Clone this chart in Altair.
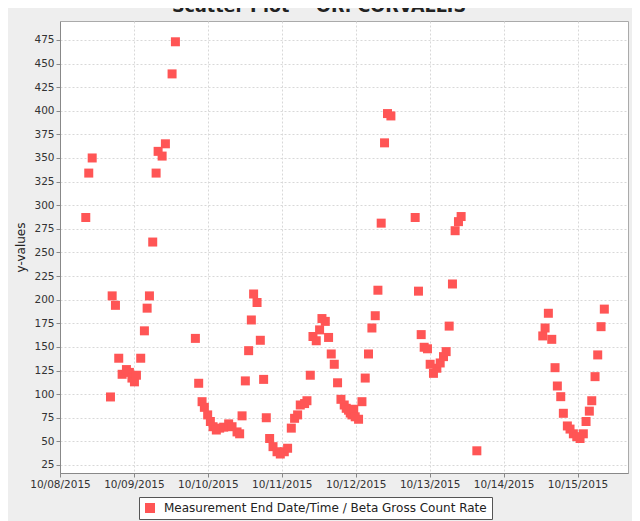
import altair as alt
import pandas as pd

TITLE = "Scatter Plot -- OR: CORVALLIS"
SERIES = "Measurement End Date/Time / Beta Gross Count Rate"

times = [
    "2015-10-08T08:22", "2015-10-08T09:20", "2015-10-08T10:27", "2015-10-08T16:23",
    "2015-10-08T16:56", "2015-10-08T18:00", "2015-10-08T19:04", "2015-10-08T20:10",
    "2015-10-08T21:34", "2015-10-08T22:32", "2015-10-08T23:21", "2015-10-09T00:10",
    "2015-10-09T00:49", "2015-10-09T02:12", "2015-10-09T03:24", "2015-10-09T04:17",
    "2015-10-09T05:02", "2015-10-09T06:06", "2015-10-09T07:12", "2015-10-09T07:51",
    "2015-10-09T09:09", "2015-10-09T10:13", "2015-10-09T12:23", "2015-10-09T13:28",
    "2015-10-09T19:57", "2015-10-09T21:01", "2015-10-09T22:07", "2015-10-09T22:52",
    "2015-10-09T23:56", "2015-10-10T00:49", "2015-10-10T01:41", "2015-10-10T02:45",
    "2015-10-10T03:50", "2015-10-10T05:08", "2015-10-10T06:45", "2015-10-10T07:51",
    "2015-10-10T09:28", "2015-10-10T10:19", "2015-10-10T11:06", "2015-10-10T12:10",
    "2015-10-10T13:14", "2015-10-10T14:07", "2015-10-10T14:51", "2015-10-10T15:58",
    "2015-10-10T17:02", "2015-10-10T18:06", "2015-10-10T18:58", "2015-10-10T20:03",
    "2015-10-10T21:09", "2015-10-10T22:27", "2015-10-10T23:31", "2015-10-11T00:49",
    "2015-10-11T01:53", "2015-10-11T03:05", "2015-10-11T04:09", "2015-10-11T05:08",
    "2015-10-11T06:00", "2015-10-11T07:24", "2015-10-11T08:10", "2015-10-11T09:15",
    "2015-10-11T10:07", "2015-10-11T11:11", "2015-10-11T12:16", "2015-10-11T13:02",
    "2015-10-11T14:07", "2015-10-11T15:11", "2015-10-11T16:03", "2015-10-11T17:02",
    "2015-10-11T18:06", "2015-10-11T19:12", "2015-10-11T20:16", "2015-10-11T20:55",
    "2015-10-11T21:40", "2015-10-11T22:13", "2015-10-11T22:46", "2015-10-11T23:21",
    "2015-10-11T23:50", "2015-10-12T00:55", "2015-10-12T02:01", "2015-10-12T03:05",
    "2015-10-12T04:09", "2015-10-12T05:15", "2015-10-12T06:20", "2015-10-12T07:12",
    "2015-10-12T08:16", "2015-10-12T09:21", "2015-10-12T10:19", "2015-10-12T11:25",
    "2015-10-12T19:18", "2015-10-12T20:22", "2015-10-12T21:15", "2015-10-12T22:13",
    "2015-10-12T23:17", "2015-10-13T00:10", "2015-10-13T01:14", "2015-10-13T02:20",
    "2015-10-13T03:25", "2015-10-13T04:29", "2015-10-13T05:21", "2015-10-13T06:20",
    "2015-10-13T07:24", "2015-10-13T08:16", "2015-10-13T09:21", "2015-10-13T10:13",
    "2015-10-13T15:19",
    "2015-10-14T12:43", "2015-10-14T13:28", "2015-10-14T14:32", "2015-10-14T15:38",
    "2015-10-14T16:42", "2015-10-14T17:27", "2015-10-14T18:33", "2015-10-14T19:24",
    "2015-10-14T20:42", "2015-10-14T21:34", "2015-10-14T22:39", "2015-10-14T23:45",
    "2015-10-15T00:49", "2015-10-15T01:53", "2015-10-15T02:46", "2015-10-15T03:50",
    "2015-10-15T04:37", "2015-10-15T05:41", "2015-10-15T06:33", "2015-10-15T07:38",
    "2015-10-15T08:42",
]

values = [
    287, 334, 350, 97,
    204, 194, 138, 121,
    126, 123, 117, 113,
    120, 138, 167, 191,
    204, 261, 334, 357,
    352, 365, 439, 473,
    159, 111.5, 92, 86,
    78, 71, 65.5, 62,
    64, 65, 68.5, 65.5,
    60, 58, 77, 114,
    146, 178.5, 206, 197,
    157, 115.6, 75, 53,
    44.4, 39, 36.6, 39,
    42.7, 64, 74.4, 78,
    88.5, 90, 93, 120,
    161, 156.5, 168, 180,
    177, 160, 142.5, 131.6,
    112, 94.5, 88.5, 85,
    83, 80, 78, 84,
    76, 73.4, 92, 117,
    142.5, 170, 183, 210,
    281, 366, 397, 394.5,
    287, 209, 163, 149.6,
    148, 131.6, 122, 127.4,
    133, 139.7, 145, 172,
    216.6, 273, 282.6, 288,
    40,
    161.6, 170, 185.6, 158,
    128, 108.6, 97.3, 79.7,
    66.3, 63, 58, 55,
    53, 58, 71, 82,
    93, 118.5, 141.5, 171.4,
    190,
]

y_ticks = list(range(25, 476, 25))
x_tick_days = [8, 9, 10, 11, 12, 13, 14, 15]

df = pd.DataFrame({"time": times, "value": values, "series": SERIES})

FONT = "DejaVu Sans"

points = alt.Chart(df).mark_square(size=81, opacity=1, filled=True).encode(
    x=alt.X(
        "time:T",
        scale=alt.Scale(
            domain=[
                alt.DateTime(year=2015, month=10, date=8, hours=0),
                alt.DateTime(year=2015, month=10, date=15, hours=16, minutes=23),
            ],
            nice=False,
        ),
        axis=alt.Axis(
            title=None,
            format="%m/%d/%Y",
            values=[alt.DateTime(year=2015, month=10, date=d) for d in x_tick_days],
            labelFlush=False,
            labelOverlap=False,
        ),
    ),
    y=alt.Y(
        "value:Q",
        scale=alt.Scale(domain=[16.5, 495], nice=False, zero=False),
        axis=alt.Axis(title="y-values", values=y_ticks, titlePadding=6),
    ),
    color=alt.Color(
        "series:N",
        scale=alt.Scale(range=["#FF5555"]),
        legend=alt.Legend(
            title=None,
            orient="none",
            legendX=79,
            legendY=476,
            direction="horizontal",
            fillColor="white",
            strokeColor="#555555",
            padding=5,
            cornerRadius=0,
            symbolType="square",
            symbolSize=100,
            symbolStrokeWidth=0,
            labelFontSize=12,
            labelFont=FONT,
            labelColor="#222222",
            labelOffset=8,
            labelLimit=0,
        ),
    ),
)

title_text = alt.Chart(pd.DataFrame({"t": [TITLE]})).mark_text(
    font=FONT, fontSize=17.5, fontWeight="bold", color="#222222",
    align="center", baseline="alphabetic",
).encode(text="t:N", x=alt.value(259), y=alt.value(-9))

chart = (
    alt.layer(points, title_text)
    .properties(
        width=568,
        height=452,
        autosize=alt.AutoSizeParams(type="none"),
        padding={"left": 52, "top": 13, "right": 4, "bottom": 48},
        background="#EEEEEE",
    )
    .configure_view(fill="white", stroke="#AAAAAA", strokeWidth=1)
    .configure_axis(
        labelFont=FONT,
        labelFontSize=10.5,
        labelColor="#333333",
        titleFont=FONT,
        titleFontSize=12,
        titleFontWeight="normal",
        titleColor="#222222",
        domainColor="#888888",
        tickColor="#888888",
        tickSize=4,
        labelPadding=2,
        gridColor="#D8D8D8",
        gridDash=[2, 2],
        gridWidth=1,
    )
)

chart.save("out.html", embed_options={"renderer": "svg", "actions": False})
